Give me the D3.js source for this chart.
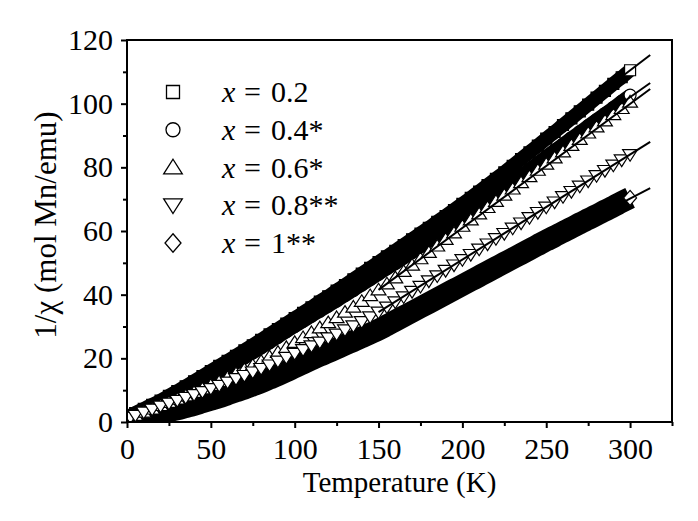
<!DOCTYPE html>
<html>
<head>
<meta charset="utf-8">
<script src="https://cdn.jsdelivr.net/npm/d3@7"></script>
<style>
  body { margin: 0; background: #fff; }
  text { font-family: "Liberation Serif", "Times New Roman", serif; fill: #000; }
</style>
</head>
<body>
<div id="chart"></div>
<script>
// Temperature grid (K) shared by all samples
const temps = [2, 5, 10, 15, 20, 25, 30, 35, 40, 45, 50, 55, 60, 65, 70, 75, 80, 85, 90, 95,
  100, 105, 110, 115, 120, 125, 130, 135, 140, 145, 150, 155, 160, 165, 170, 175, 180, 185, 190, 195,
  200, 205, 210, 215, 220, 225, 230, 235, 240, 245, 250, 255, 260, 265, 270, 275, 280, 285, 290, 295, 300];

// 1/chi (mol Mn/emu)
const inv02 = [2.0, 2.8, 4.1, 5.4, 6.7, 8.2, 9.7, 11.2, 12.8, 14.4, 16.0, 17.6, 19.2, 20.8, 22.5, 24.1, 25.8, 27.5, 29.2, 30.9,
  32.6, 34.3, 36.0, 37.8, 39.5, 41.3, 43.0, 44.8, 46.6, 48.4, 50.2, 52.0, 53.8, 55.6, 57.4, 59.2, 61.0, 62.9, 64.7, 66.6,
  68.5, 70.4, 72.4, 74.4, 76.4, 78.4, 80.5, 82.6, 84.7, 86.8, 89.0, 91.1, 93.3, 95.4, 97.6, 99.7, 101.9, 104.0, 106.2, 108.3, 110.5];
const inv04 = [1.8, 2.6, 3.7, 4.8, 6.0, 7.3, 8.6, 9.9, 11.2, 12.6, 14.0, 15.5, 17.0, 18.5, 20.1, 21.7, 23.3, 24.9, 26.6, 28.3,
  30.0, 31.6, 33.2, 34.8, 36.4, 38.0, 39.7, 41.3, 43.0, 44.7, 46.4, 48.1, 49.8, 51.5, 53.2, 55.0, 56.8, 58.6, 60.4, 62.2,
  64.0, 65.9, 67.8, 69.7, 71.6, 73.6, 75.5, 77.5, 79.5, 81.5, 83.5, 85.4, 87.3, 89.3, 91.2, 93.1, 95.0, 96.9, 98.8, 100.8, 102.7];
const inv06 = [1.5, 2.1, 3.1, 4.1, 5.2, 6.2, 7.2, 8.2, 9.3, 10.4, 11.5, 12.7, 14.0, 15.2, 16.5, 17.8, 19.1, 20.5, 21.9, 23.4,
  25.0, 26.5, 28.1, 29.6, 31.2, 32.8, 34.5, 36.1, 37.9, 39.7, 41.5, 43.4, 45.3, 47.3, 49.3, 51.3, 53.3, 55.3, 57.4, 59.4,
  61.5, 63.5, 65.4, 67.4, 69.3, 71.3, 73.2, 75.2, 77.1, 79.1, 81.0, 83.0, 84.9, 86.9, 88.8, 90.8, 92.7, 94.6, 96.6, 98.5, 100.5];
const inv08 = [1.5, 2.1, 3.1, 4.0, 5.0, 5.9, 6.8, 7.7, 8.6, 9.5, 10.5, 11.5, 12.5, 13.6, 14.6, 15.7, 16.8, 17.9, 19.1, 20.3,
  21.5, 22.7, 23.9, 25.1, 26.4, 27.6, 28.9, 30.2, 31.5, 33.0, 34.5, 36.1, 37.7, 39.3, 41.0, 42.6, 44.3, 45.9, 47.6, 49.3,
  51.0, 52.6, 54.3, 55.9, 57.6, 59.2, 60.9, 62.5, 64.2, 65.8, 67.5, 69.1, 70.8, 72.4, 74.1, 75.7, 77.4, 79.0, 80.7, 82.3, 84.0];
const inv10 = [1.2, 1.4, 1.8, 2.3, 2.8, 3.4, 4.0, 4.7, 5.4, 6.2, 7.0, 7.8, 8.7, 9.6, 10.5, 11.5, 12.5, 13.6, 14.7, 15.9,
  17.2, 18.4, 19.6, 20.8, 21.9, 23.1, 24.3, 25.4, 26.6, 27.8, 29.0, 30.4, 31.8, 33.2, 34.6, 36.0, 37.4, 38.8, 40.2, 41.6,
  43.0, 44.4, 45.8, 47.2, 48.6, 50.0, 51.4, 52.8, 54.2, 55.6, 57.0, 58.3, 59.7, 61.0, 62.4, 63.7, 65.0, 66.4, 67.7, 69.1, 70.4];

// Curie-Weiss fit lines (start / end temperature and values)
const fitT = [150, 312];
const fit02 = [50.2, 115.3];
const fit04 = [46.4, 106.5];
const fit06 = [41.5, 104.6];
const fit08 = [34.5, 88.0];
const fit10 = [29.0, 73.5];

const labels = ["0.2", "0.4*", "0.6*", "0.8**", "1**"];
const xTicks = [0, 50, 100, 150, 200, 250, 300];
const yTicks = [0, 20, 40, 60, 80, 100, 120];

const W = 698, H = 521;
const margin = { top: 40, right: 26, bottom: 99, left: 127 };
const width = W - margin.left - margin.right;
const height = H - margin.top - margin.bottom;
const serif = "'Liberation Serif', 'Times New Roman', serif";

const svg = d3.select("#chart").append("svg")
  .attr("width", W).attr("height", H);
const g = svg.append("g").attr("transform", `translate(${margin.left},${margin.top})`);

const x = d3.scaleLinear().domain([0, 325]).range([0, width]);
const y = d3.scaleLinear().domain([0, 120]).range([height, 0]);

// marker shapes
function shape(type, s) {
  const h = s / 2;
  if (type === "square") return `M${-h},${-h}H${h}V${h}H${-h}Z`;
  if (type === "circle") return `M${h},0A${h},${h} 0 1,1 ${-h},0A${h},${h} 0 1,1 ${h},0Z`;
  if (type === "up") return `M0,${-s * 0.55}L${s * 0.62},${s * 0.42}L${-s * 0.62},${s * 0.42}Z`;
  if (type === "down") return `M0,${s * 0.55}L${s * 0.62},${-s * 0.42}L${-s * 0.62},${-s * 0.42}Z`;
  if (type === "diamond") return `M0,${-s * 0.58}L${s * 0.5},0L0,${s * 0.58}L${-s * 0.5},0Z`;
}

svg.append("defs").append("clipPath").attr("id", "plotclip")
  .append("rect").attr("width", width).attr("height", height);

const plot = g.append("g").attr("clip-path", "url(#plotclip)");

const series = [
  { vals: inv02, type: "square", size: 11, dense: true, band: 14 },
  { vals: inv04, type: "circle", size: 12, dense: true, band: 13 },
  { vals: inv10, type: "diamond", size: 13, dense: true, band: 22 },
  { vals: inv06, type: "up", size: 12, dense: false },
  { vals: inv08, type: "down", size: 12, dense: false }
];

const line = d3.line().x(d => x(d[0])).y(d => y(d[1])).curve(d3.curveMonotoneX);

series.forEach(s => {
  const pts = temps.map((t, i) => [t, s.vals[i]]);
  if (s.dense) {
    // densely packed open symbols merge into a solid band
    plot.append("path").datum(pts)
      .attr("d", line)
      .attr("fill", "none")
      .attr("stroke", "#000")
      .attr("stroke-width", s.band);
  }
  plot.append("g").selectAll("path")
    .data(pts)
    .enter().append("path")
    .attr("d", shape(s.type, s.size))
    .attr("transform", d => `translate(${x(d[0])},${y(d[1])})`)
    .attr("fill", (d, i) => (s.dense && i < pts.length - 1) ? "#000" : "#fff")
    .attr("stroke", "#000")
    .attr("stroke-width", 1.2);
});

// fit lines
[fit02, fit04, fit06, fit08, fit10].forEach(f => {
  plot.append("line")
    .attr("x1", x(fitT[0])).attr("y1", y(f[0]))
    .attr("x2", x(fitT[1])).attr("y2", y(f[1]))
    .attr("stroke", "#000")
    .attr("stroke-width", 2);
});

// axes
const xAxis = g.append("g")
  .attr("transform", `translate(0,${height})`)
  .call(d3.axisBottom(x).tickValues(xTicks).tickSize(6).tickSizeOuter(0).tickPadding(10));
const xMinor = g.append("g")
  .attr("transform", `translate(0,${height})`)
  .call(d3.axisBottom(x).tickValues([25, 75, 125, 175, 225, 275, 325]).tickSize(4).tickFormat(""));
const yAxis = g.append("g")
  .call(d3.axisLeft(y).tickValues(yTicks).tickSize(6).tickSizeOuter(0).tickPadding(8));
const yMinor = g.append("g")
  .call(d3.axisLeft(y).tickValues([10, 30, 50, 70, 90, 110]).tickSize(4).tickFormat(""));

[xAxis, xMinor, yAxis, yMinor].forEach(a => {
  a.attr("font-family", serif).attr("font-size", 30);
  a.select(".domain").remove();
  a.selectAll("line").attr("stroke", "#000").attr("stroke-width", 2);
  a.selectAll("text").style("font-size", "30px").style("font-family", serif);
});

// frame
g.append("rect")
  .attr("width", width).attr("height", height)
  .attr("fill", "none").attr("stroke", "#000").attr("stroke-width", 2);

// axis titles
svg.append("text")
  .attr("x", margin.left + width / 2)
  .attr("y", 492)
  .attr("text-anchor", "middle")
  .style("font-size", "29px")
  .text("Temperature (K)");

svg.append("text")
  .attr("transform", `translate(56,${margin.top + height / 2 - 6}) rotate(-90)`)
  .attr("text-anchor", "middle")
  .style("font-size", "31px")
  .text("1/\u03c7 (mol Mn/emu)");

// legend
const legendTypes = ["square", "circle", "up", "down", "diamond"];
const legendSizes = [13, 14, 15, 15, 16];
const legend = svg.append("g");
labels.forEach((lab, i) => {
  const cy = 92 + i * 37.75;
  legend.append("path")
    .attr("d", shape(legendTypes[i], legendSizes[i]))
    .attr("transform", `translate(173,${cy})`)
    .attr("fill", "#fff").attr("stroke", "#000").attr("stroke-width", 1.3);
  const t = legend.append("text")
    .attr("y", cy + 10)
    .style("font-size", "30px");
  t.append("tspan").attr("x", 222).style("font-style", "italic").text("x");
  t.append("tspan").attr("x", 244).text("=");
  t.append("tspan").attr("x", 271).text(lab);
});
</script>
</body>
</html>
